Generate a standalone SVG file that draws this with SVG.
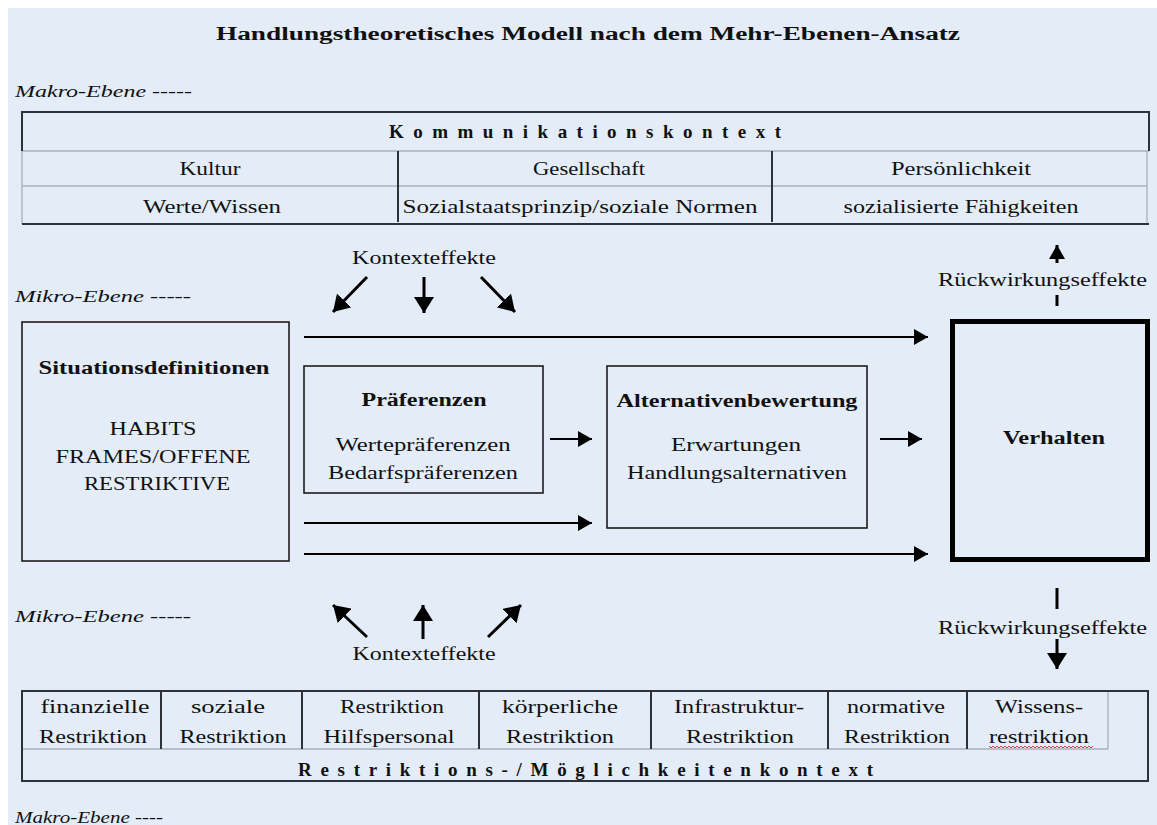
<svg xmlns="http://www.w3.org/2000/svg" width="1157" height="825" viewBox="0 0 1157 825">
<style>
  .t { font-family: "Liberation Serif", "DejaVu Serif", serif; font-size: 18px; fill: #111; }
  .c { text-anchor: middle; }
  .b { font-weight: bold; font-size: 18px; }
  .h { font-weight: bold; font-size: 19px; }
  .i { font-style: italic; font-size: 17px; }
  .box { fill: none; stroke: #1c1c1c; stroke-width: 1.6; }
  .dark { stroke: #2e3236; stroke-width: 2; fill: none; }
  .grey { stroke: #a9b0b8; stroke-width: 1.3; fill: none; }
  .con { stroke: #000; stroke-width: 2; fill: none; }
  .ke { stroke: #000; stroke-width: 3; fill: none; }
</style>
<defs>
  <marker id="arr" markerUnits="userSpaceOnUse" markerWidth="14" markerHeight="16" refX="14" refY="8" orient="auto">
    <path d="M0,0 L14,8 L0,16 Z" fill="#000"/>
  </marker>
  <marker id="arrB" markerUnits="userSpaceOnUse" markerWidth="16" markerHeight="20" refX="16" refY="10" orient="auto">
    <path d="M0,0 L16,10 L0,20 Z" fill="#000"/>
  </marker>
</defs>

<rect x="8" y="8" width="1149" height="817" fill="#e3ecf7"/>

<text class="t b" x="216" y="40" font-size="21" textLength="744" lengthAdjust="spacingAndGlyphs">Handlungstheoretisches Modell nach dem Mehr-Ebenen-Ansatz</text>

<text class="t i" x="15" y="97" textLength="177" lengthAdjust="spacingAndGlyphs">Makro-Ebene -----</text>
<text class="t i" x="15" y="302" textLength="176" lengthAdjust="spacingAndGlyphs">Mikro-Ebene -----</text>
<text class="t i" x="15" y="622" textLength="176" lengthAdjust="spacingAndGlyphs">Mikro-Ebene -----</text>
<text class="t i" x="15" y="823" textLength="148" lengthAdjust="spacingAndGlyphs">Makro-Ebene ----</text>

<!-- Kommunikationskontext table -->
<g id="kommunikationskontext">
  <line class="grey" x1="22" y1="151" x2="1149" y2="151"/>
  <line class="grey" x1="22" y1="186" x2="1147" y2="186"/>
  <line class="grey" x1="22" y1="151" x2="22" y2="224"/>
  <line class="grey" x1="1147" y1="151" x2="1147" y2="224"/>
  <path class="dark" d="M22,151 V112 H1149 V151"/>
  <line class="dark" x1="22" y1="224" x2="1149" y2="224"/>
  <line class="dark" x1="398" y1="151" x2="398" y2="222"/>
  <line class="dark" x1="772" y1="151" x2="772" y2="222"/>
  <text class="t h" x="389" y="138" textLength="392" lengthAdjust="spacing">Kommunikationskontext</text>
  <text class="t c" x="210" y="175" textLength="61" lengthAdjust="spacingAndGlyphs">Kultur</text>
  <text class="t c" x="589" y="175" textLength="112" lengthAdjust="spacingAndGlyphs">Gesellschaft</text>
  <text class="t c" x="961" y="175" textLength="140" lengthAdjust="spacingAndGlyphs">Persönlichkeit</text>
  <text class="t c" x="212" y="213" textLength="138" lengthAdjust="spacingAndGlyphs">Werte/Wissen</text>
  <text class="t c" x="580" y="213" textLength="355" lengthAdjust="spacingAndGlyphs">Sozialstaatsprinzip/soziale Normen</text>
  <text class="t c" x="961" y="213" textLength="235" lengthAdjust="spacingAndGlyphs">sozialisierte Fähigkeiten</text>
</g>

<g id="situationsdefinitionen">
  <rect class="box" x="22" y="322" width="267" height="239"/>
  <text class="t b c" x="154" y="374" textLength="231" lengthAdjust="spacingAndGlyphs">Situationsdefinitionen</text>
  <text class="t c" x="153" y="435" textLength="87" lengthAdjust="spacingAndGlyphs">HABITS</text>
  <text class="t c" x="153" y="463" textLength="195" lengthAdjust="spacingAndGlyphs">FRAMES/OFFENE</text>
  <text class="t c" x="157" y="490" textLength="146" lengthAdjust="spacingAndGlyphs">RESTRIKTIVE</text>
</g>

<g id="praeferenzen">
  <rect class="box" x="304" y="366" width="239" height="127"/>
  <text class="t b c" x="424" y="406" textLength="125" lengthAdjust="spacingAndGlyphs">Präferenzen</text>
  <text class="t c" x="423" y="451" textLength="175" lengthAdjust="spacingAndGlyphs">Wertepräferenzen</text>
  <text class="t c" x="423" y="479" textLength="190" lengthAdjust="spacingAndGlyphs">Bedarfspräferenzen</text>
</g>

<g id="alternativenbewertung">
  <rect class="box" x="607" y="366" width="260" height="162"/>
  <text class="t b c" x="737" y="407" textLength="241" lengthAdjust="spacingAndGlyphs">Alternativenbewertung</text>
  <text class="t c" x="736" y="451" textLength="130" lengthAdjust="spacingAndGlyphs">Erwartungen</text>
  <text class="t c" x="737" y="479" textLength="220" lengthAdjust="spacingAndGlyphs">Handlungsalternativen</text>
</g>

<g id="verhalten">
  <rect x="952.5" y="321.5" width="195" height="238" fill="none" stroke="#000" stroke-width="5"/>
  <text class="t b c" x="1054" y="444" textLength="102" lengthAdjust="spacingAndGlyphs">Verhalten</text>
</g>

<g id="kontexteffekte-oben">
  <text class="t c" x="424" y="264" textLength="144" lengthAdjust="spacingAndGlyphs">Kontexteffekte</text>
</g>
<g id="kontexteffekte-unten">
  <text class="t c" x="424" y="660" textLength="143" lengthAdjust="spacingAndGlyphs">Kontexteffekte</text>
</g>
<g id="rueckwirkung-oben">
  <text class="t" x="938" y="286" textLength="209" lengthAdjust="spacingAndGlyphs">Rückwirkungseffekte</text>
</g>
<g id="rueckwirkung-unten">
  <text class="t" x="938" y="634" textLength="209" lengthAdjust="spacingAndGlyphs">Rückwirkungseffekte</text>
</g>

<!-- Restriktions-/Möglichkeitenkontext table -->
<g id="restriktionskontext">
  <line class="grey" x1="22" y1="749" x2="1108" y2="749"/>
  <line class="grey" x1="1108" y1="691" x2="1108" y2="749"/>
  <path class="dark" d="M22,691 H1148 V781 H22 Z"/>
  <line class="dark" x1="161" y1="691" x2="161" y2="749"/>
  <line class="dark" x1="302" y1="691" x2="302" y2="749"/>
  <line class="dark" x1="479" y1="691" x2="479" y2="749"/>
  <line class="dark" x1="651" y1="691" x2="651" y2="749"/>
  <line class="dark" x1="828" y1="691" x2="828" y2="749"/>
  <line class="dark" x1="967" y1="691" x2="967" y2="749"/>
  <text class="t c" x="95" y="713" textLength="109" lengthAdjust="spacingAndGlyphs">finanzielle</text>
  <text class="t c" x="93" y="743" textLength="108" lengthAdjust="spacingAndGlyphs">Restriktion</text>
  <text class="t c" x="228" y="713" textLength="74" lengthAdjust="spacingAndGlyphs">soziale</text>
  <text class="t c" x="233" y="743" textLength="107" lengthAdjust="spacingAndGlyphs">Restriktion</text>
  <text class="t c" x="392" y="713" textLength="104" lengthAdjust="spacingAndGlyphs">Restriktion</text>
  <text class="t c" x="389" y="743" textLength="131" lengthAdjust="spacingAndGlyphs">Hilfspersonal</text>
  <text class="t c" x="560" y="713" textLength="116" lengthAdjust="spacingAndGlyphs">körperliche</text>
  <text class="t c" x="560" y="743" textLength="108" lengthAdjust="spacingAndGlyphs">Restriktion</text>
  <text class="t c" x="739" y="713" textLength="130" lengthAdjust="spacingAndGlyphs">Infrastruktur-</text>
  <text class="t c" x="740" y="743" textLength="108" lengthAdjust="spacingAndGlyphs">Restriktion</text>
  <text class="t c" x="896" y="713" textLength="98" lengthAdjust="spacingAndGlyphs">normative</text>
  <text class="t c" x="897" y="743" textLength="106" lengthAdjust="spacingAndGlyphs">Restriktion</text>
  <text class="t c" x="1039" y="713" textLength="88" lengthAdjust="spacingAndGlyphs">Wissens-</text>
  <text class="t c" x="1039" y="743" textLength="100" lengthAdjust="spacingAndGlyphs">restriktion</text>
  <path d="M989,746 l2,2 l2,-2 l2,2 l2,-2 l2,2 l2,-2 l2,2 l2,-2 l2,2 l2,-2 l2,2 l2,-2 l2,2 l2,-2 l2,2 l2,-2 l2,2 l2,-2 l2,2 l2,-2 l2,2 l2,-2 l2,2 l2,-2 l2,2 l2,-2 l2,2 l2,-2 l2,2 l2,-2 l2,2 l2,-2 l2,2 l2,-2 l2,2 l2,-2 l2,2 l2,-2 l2,2 l2,-2 l2,2 l2,-2 l2,2 l2,-2 l2,2 l2,-2 l2,2 l2,-2 l2,2 l2,-2 l2,2 l2,-2" fill="none" stroke="#d04040" stroke-width="1"/>
  <text class="t h" x="298" y="776" textLength="575" lengthAdjust="spacing">Restriktions-/Möglichkeitenkontext</text>
</g>

<g id="connectors">
  <path class="con" d="M304,337 H928" marker-end="url(#arr)"/>
  <path class="con" d="M304,523 H592" marker-end="url(#arr)"/>
  <path class="con" d="M304,554 H928" marker-end="url(#arr)"/>
  <path class="con" d="M550,439 H592" marker-end="url(#arr)"/>
  <path class="con" d="M880,439 H922" marker-end="url(#arr)"/>

  <path class="ke" d="M367,277 L333,312" marker-end="url(#arrB)"/>
  <path class="ke" d="M424,277 V313" marker-end="url(#arrB)"/>
  <path class="ke" d="M481,277 L515,312" marker-end="url(#arrB)"/>

  <path class="ke" d="M367,637 L333,605" marker-end="url(#arrB)"/>
  <path class="ke" d="M423,639 V605" marker-end="url(#arrB)"/>
  <path class="ke" d="M488,637 L521,605" marker-end="url(#arrB)"/>

  <path class="ke" d="M1057,263 V245" marker-end="url(#arr)"/>
  <line class="ke" x1="1057" y1="295" x2="1057" y2="306"/>
  <line class="ke" x1="1057" y1="588" x2="1057" y2="609"/>
  <path class="ke" d="M1057,639 V669" marker-end="url(#arrB)"/>
</g>
</svg>
